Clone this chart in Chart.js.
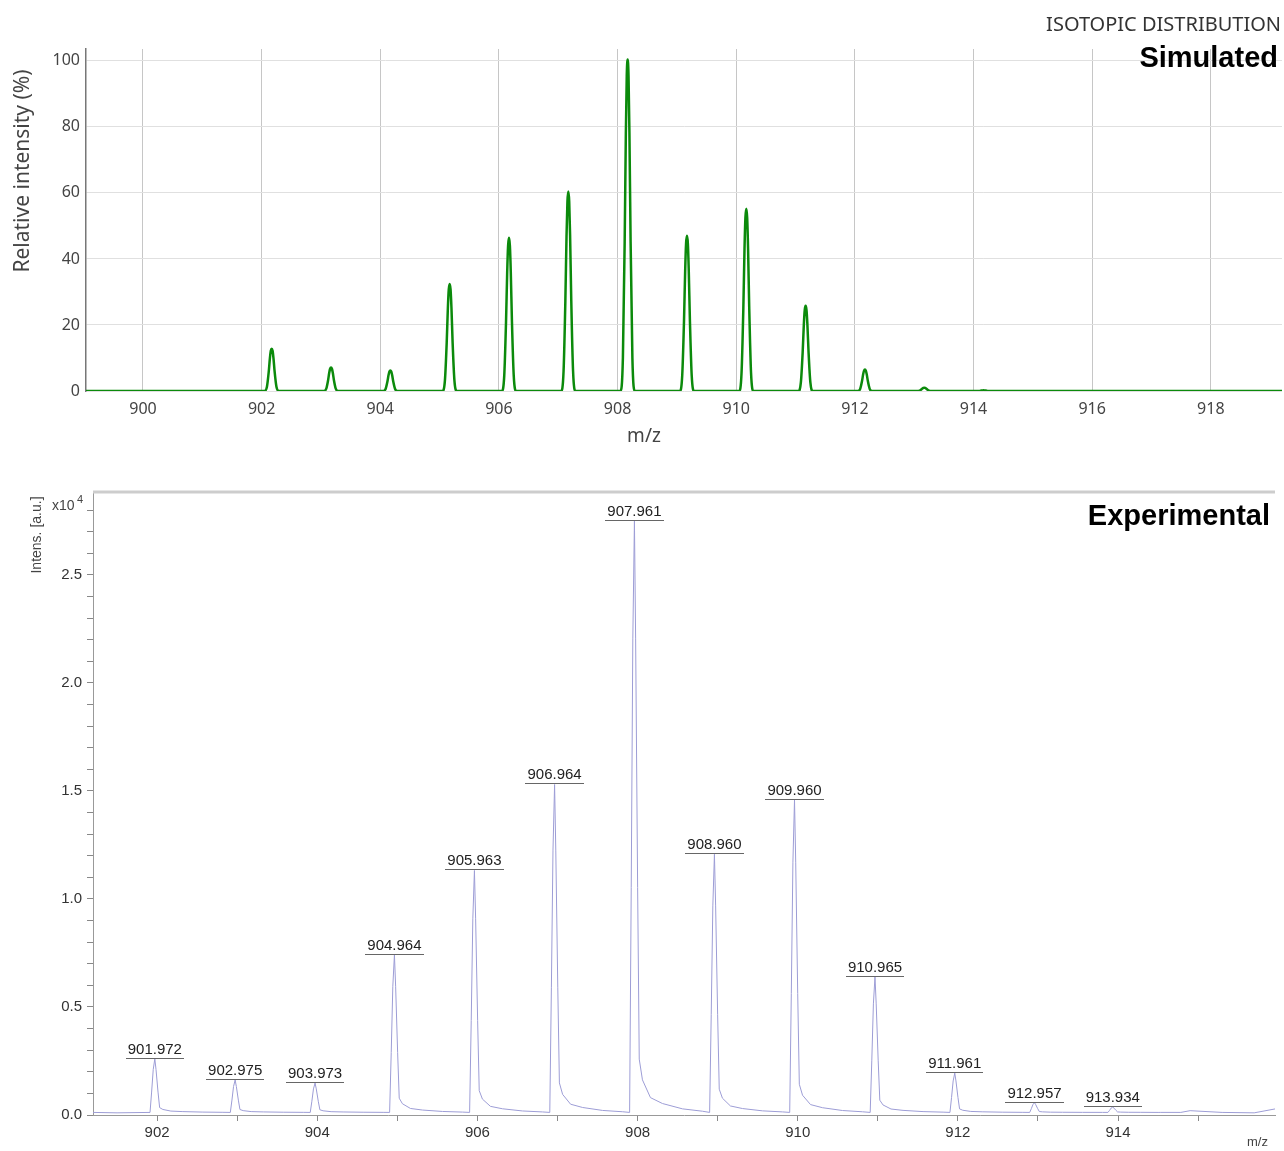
<!DOCTYPE html>
<html><head><meta charset="utf-8">
<script src="https://cdn.jsdelivr.net/npm/chart.js@4.4.1/dist/chart.umd.min.js"></script>
<style>
html,body{margin:0;padding:0;background:#fff;}
#wrap{position:relative;width:1284px;height:1151px;overflow:hidden;}
#c1{position:absolute;left:0;top:0;}
#c2{position:absolute;left:0;top:460px;}
</style></head><body>
<div id="wrap"><canvas id="c1" width="1284" height="455"></canvas><canvas id="c2" width="1284" height="691"></canvas></div>
<script>
// ---------- Simulated isotopic distribution ----------
const simXTicks = [900, 902, 904, 906, 908, 910, 912, 914, 916, 918];
const simYTicks = [0, 20, 40, 60, 80, 100];
const simPeakMz = [902.17, 903.17, 904.17, 905.17, 906.17, 907.17, 908.17, 909.17, 910.17, 911.17, 912.17, 913.17, 914.17];
const simIntensity = [12.8, 7.1, 6.2, 32.4, 46.4, 60.4, 100.4, 47.0, 55.2, 25.8, 6.5, 1.0, 0.2];
// peak profile (offset in m/z, fraction of peak height)
const simShapeOffset = [-0.12, -0.08, -0.05, -0.03, -0.015, 0, 0.015, 0.03, 0.05, 0.08, 0.12];
const simShapeFrac = [0, 0.1, 0.45, 0.78, 0.95, 1, 0.95, 0.78, 0.45, 0.1, 0];
const simRange = [899.04, 919.2];

// ---------- Experimental spectrum ----------
const expXTicks = [902, 903, 904, 905, 906, 907, 908, 909, 910, 911, 912, 913, 914, 915];
const expYTicks = [0, 0.1, 0.2, 0.3, 0.4, 0.5, 0.6, 0.7, 0.8, 0.9, 1.0, 1.1, 1.2, 1.3, 1.4, 1.5, 1.6, 1.7, 1.8, 1.9, 2.0, 2.1, 2.2, 2.3, 2.4, 2.5, 2.6, 2.7, 2.8];
const expPeakMz = [901.972, 902.975, 903.973, 904.964, 905.963, 906.964, 907.961, 908.960, 909.960, 910.965, 911.961, 912.957, 913.934];
const expPeakLabels = ['901.972', '902.975', '903.973', '904.964', '905.963', '906.964', '907.961', '908.960', '909.960', '910.965', '911.961', '912.957', '913.934'];
const expIntensity = [0.248, 0.150, 0.136, 0.730, 1.120, 1.518, 2.740, 1.195, 1.448, 0.628, 0.182, 0.045, 0.025]; // x10^4, above baseline
const expShapeOffset = [-0.06, -0.04, -0.02, 0, 0.015, 0.04, 0.06, 0.1, 0.2, 0.35, 0.6, 0.85];
const expShapeFrac = [0, 0.38, 0.8, 1, 0.8, 0.38, 0.09, 0.055, 0.025, 0.015, 0.006, 0.002];
const expBgMz = [901.2, 901.5, 914.5, 914.9, 915.3, 915.7, 915.96];
const expBg = [0.012, 0.01, 0.012, 0.02, 0.012, 0.01, 0.028];
const expBase = 0.012;
const expRange = [901.2, 915.96];

// build simulated line points
const simPts = [{x: simRange[0], y: 0}];
simPeakMz.forEach((c, i) => {
  simShapeOffset.forEach((o, j) => simPts.push({x: c + o, y: simIntensity[i] * simShapeFrac[j]}));
});
simPts.push({x: simRange[1], y: 0});

// build experimental line points
let expPts = [];
expBgMz.forEach((m, i) => expPts.push({x: m, y: expBg[i]}));
expPeakMz.forEach((c, i) => {
  expShapeOffset.forEach((o, j) => expPts.push({x: c + o, y: expBase + expIntensity[i] * expShapeFrac[j]}));
});
expPts.sort((a, b) => a.x - b.x);

const segoe = '"Noto Sans", "Open Sans", sans-serif';
const arial = '"Liberation Sans", Arial, sans-serif';

const simText = {
  id: 'simText',
  afterDraw(chart) {
    const ctx = chart.ctx;
    ctx.save();
    ctx.fillStyle = '#444';
    ctx.font = '21px ' + segoe;
    ctx.textAlign = 'center';
    ctx.textBaseline = 'middle';
    ctx.save();
    ctx.translate(23, 171);
    ctx.rotate(-Math.PI / 2);
    ctx.fillText('Relative intensity (%)', 0, 0);
    ctx.restore();
    ctx.font = '19px ' + segoe;
    ctx.fillText('m/z', 644, 437);
    ctx.textAlign = 'right';
    ctx.fillStyle = '#333';
    ctx.font = '20px ' + segoe;
    ctx.fillText('ISOTOPIC DISTRIBUTION', 1281, 25);
    ctx.fillStyle = '#000';
    ctx.font = 'bold 29px ' + arial;
    ctx.fillText('Simulated', 1278, 59);
    ctx.restore();
  }
};

new Chart(document.getElementById('c1'), {
  type: 'line',
  data: {datasets: [{data: simPts, borderColor: '#0b8a0b', borderWidth: 2.5, pointRadius: 0, cubicInterpolationMode: 'monotone', fill: false}]},
  options: {
    responsive: false, animation: false,
    layout: {padding: {left: 0, right: 2, top: 49, bottom: 0}},
    plugins: {legend: {display: false}, tooltip: {enabled: false}},
    scales: {
      x: {
        type: 'linear', min: simRange[0], max: simRange[1],
        afterBuildTicks: s => { s.ticks = simXTicks.map(v => ({value: v})); },
        afterFit: s => { s.height = 64; },
        grid: {color: '#c6c6c6', drawTicks: false},
        border: {display: false},
        ticks: {autoSkip: false, maxRotation: 0, padding: 9, color: '#444', font: {family: segoe, size: 16}, callback: v => String(v)}
      },
      y: {
        min: 0, max: 103.6,
        afterBuildTicks: s => { s.ticks = simYTicks.map(v => ({value: v})); },
        afterFit: s => { s.width = 86; },
        grid: {color: '#e0e0e0', drawTicks: false},
        border: {display: true, color: '#777', width: 1.5},
        ticks: {autoSkip: false, padding: 6, color: '#444', font: {family: segoe, size: 16}, callback: v => String(v)}
      }
    }
  },
  plugins: [simText]
});

const expText = {
  id: 'expText',
  beforeDatasetsDraw(chart) {
    const ctx = chart.ctx, a = chart.chartArea;
    ctx.save();
    ctx.strokeStyle = '#cdcdcd';
    ctx.lineWidth = 3;
    ctx.beginPath();
    ctx.moveTo(a.left, a.top);
    ctx.lineTo(a.right, a.top);
    ctx.stroke();
    ctx.restore();
  },
  afterDatasetsDraw(chart) {
    const ctx = chart.ctx;
    const xs = chart.scales.x, ys = chart.scales.y;
    ctx.save();
    ctx.font = '15px ' + arial;
    ctx.textAlign = 'center';
    ctx.textBaseline = 'alphabetic';
    expPeakMz.forEach((m, i) => {
      const px = xs.getPixelForValue(m);
      const py = ys.getPixelForValue(expBase + expIntensity[i]);
      const t = expPeakLabels[i];
      const w = ctx.measureText(t).width;
      ctx.fillStyle = '#222';
      ctx.fillText(t, px, py - 5);
      ctx.strokeStyle = '#666';
      ctx.lineWidth = 1;
      ctx.beginPath();
      ctx.moveTo(Math.round(px - w / 2 - 2), Math.round(py - 1) + 0.5);
      ctx.lineTo(Math.round(px + w / 2 + 2), Math.round(py - 1) + 0.5);
      ctx.stroke();
    });
    ctx.restore();
  },
  afterDraw(chart) {
    const ctx = chart.ctx;
    ctx.save();
    ctx.fillStyle = '#444';
    ctx.font = '14px ' + arial;
    ctx.textBaseline = 'middle';
    ctx.textAlign = 'center';
    ctx.save();
    ctx.translate(37, 75);
    ctx.rotate(-Math.PI / 2);
    ctx.fillText('Intens. [a.u.]', 0, 0);
    ctx.restore();
    ctx.textAlign = 'left';
    ctx.font = '14px ' + arial;
    ctx.fillText('x10', 52, 46);
    ctx.font = '11px ' + arial;
    ctx.fillText('4', 77, 40);
    ctx.font = '13px ' + arial;
    ctx.fillText('m/z', 1247, 682);
    ctx.textAlign = 'right';
    ctx.fillStyle = '#000';
    ctx.font = 'bold 29px ' + arial;
    ctx.fillText('Experimental', 1270, 57);
    ctx.restore();
  }
};

new Chart(document.getElementById('c2'), {
  type: 'line',
  data: {datasets: [{data: expPts, borderColor: '#9d9dd6', borderWidth: 1, pointRadius: 0, tension: 0, fill: false}]},
  options: {
    responsive: false, animation: false,
    layout: {padding: {left: 0, right: 9, top: 32, bottom: 0}},
    plugins: {legend: {display: false}, tooltip: {enabled: false}},
    scales: {
      x: {
        type: 'linear', min: expRange[0], max: expRange[1],
        afterBuildTicks: s => { s.ticks = expXTicks.map(v => ({value: v})); },
        afterFit: s => { s.height = 36; },
        grid: {display: true, drawOnChartArea: false, drawTicks: true, tickLength: 6, color: '#888'},
        border: {display: true, color: '#999'},
        ticks: {autoSkip: false, maxRotation: 0, padding: 3, color: '#333', font: {family: arial, size: 15},
          callback: v => (v % 2 === 0 ? String(v) : '')}
      },
      y: {
        min: 0, max: 2.884,
        afterBuildTicks: s => { s.ticks = expYTicks.map(v => ({value: v})); },
        afterFit: s => { s.width = 93; },
        grid: {display: true, drawOnChartArea: false, drawTicks: true, tickLength: 6, color: '#888'},
        border: {display: true, color: '#999'},
        ticks: {autoSkip: false, padding: 5, color: '#333', font: {family: arial, size: 15},
          callback: v => (Math.abs(v * 2 - Math.round(v * 2)) < 1e-6 ? v.toFixed(1) : '')}
      }
    }
  },
  plugins: [expText]
});
</script>
</body></html>
